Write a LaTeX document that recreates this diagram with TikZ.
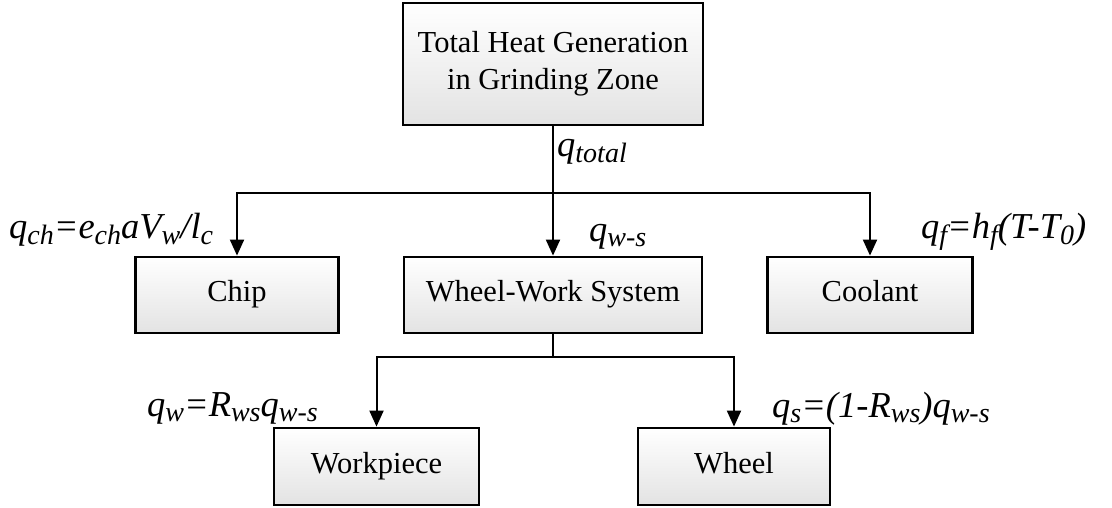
\documentclass[tikz,border=0pt]{standalone}
\usepackage{fontspec}
\setmainfont{Liberation Serif}
\usetikzlibrary{arrows.meta}

% italic formula text with lowered, smaller subscripts
\newcommand\lbfont{\fontsize{36.5}{42}\selectfont\itshape}
\newcommand\sbx[1]{\raisebox{-0.16em}{\fontsize{28}{32}\selectfont #1}}

\tikzset{
  block/.style={draw=black, line width=2.8pt, top color=white, bottom color=black!11,
    minimum height=76pt, align=center, inner sep=0pt,
    text height=21pt, text depth=8pt,
    font=\fontsize{30.5}{37}\selectfont},
  flow/.style={line width=2pt, -{Triangle[length=16pt,width=14pt]}},
  link/.style={line width=2pt},
  formula/.style={inner sep=0pt, font=\lbfont},
}

\begin{document}
\begin{tikzpicture}[x=1pt, y=-1pt]
\useasboundingbox (0,0) rectangle (1112,508);

% boxes
\node[block, minimum width=300pt, minimum height=122pt, text height=, text depth=]
  (total) at (553,64) {Total Heat Generation\\in Grinding Zone};
\node[block, minimum width=203pt] (chip) at (237,295) {Chip};
\node[block, minimum width=298pt] (ws) at (553,295) {Wheel-Work System};
\node[block, minimum width=205pt] (cool) at (870,295) {Coolant};
\node[block, minimum width=205pt, minimum height=77pt] (work) at (376.5,466.5) {Workpiece};
\node[block, minimum width=192pt, minimum height=77pt] (wheel) at (734,466.5) {Wheel};

% branch points
\coordinate (b1) at (553,193);
\coordinate (b2) at (553,357);

% first level distribution
\draw[link] (total.south) -- (b1);
\draw[flow] (b1) -- (ws.north);
\draw[flow] (b1) -| (chip.north);
\draw[flow] (b1) -| (cool.north);

% second level distribution
\draw[link] (ws.south) -- (b2);
\draw[flow] (b2) -| (work.north);
\draw[flow] (b2) -| (wheel.north);

% heat flux labels
\node[formula, anchor=base west] (lt) at (557,157) {q\sbx{total}};
\node[formula, anchor=base west] (lch) at (9,239)
  {q\sbx{ch}=e\sbx{ch}aV\sbx{w}/l\sbx{c}};
\node[formula, anchor=base west] (lws) at (589,241) {q\sbx{w-s}};
\node[formula, anchor=base west] (lf) at (921,239)
  {q\sbx{f}=h\sbx{f}(T-T\sbx{0})};
\node[formula, anchor=base west] (lw) at (147,416)
  {q\sbx{w}=R\sbx{ws}q\sbx{w-s}};
\node[formula, anchor=base west] (ls) at (772,417)
  {q\sbx{s}=(1-R\sbx{ws})q\sbx{w-s}};
\end{tikzpicture}
\end{document}
